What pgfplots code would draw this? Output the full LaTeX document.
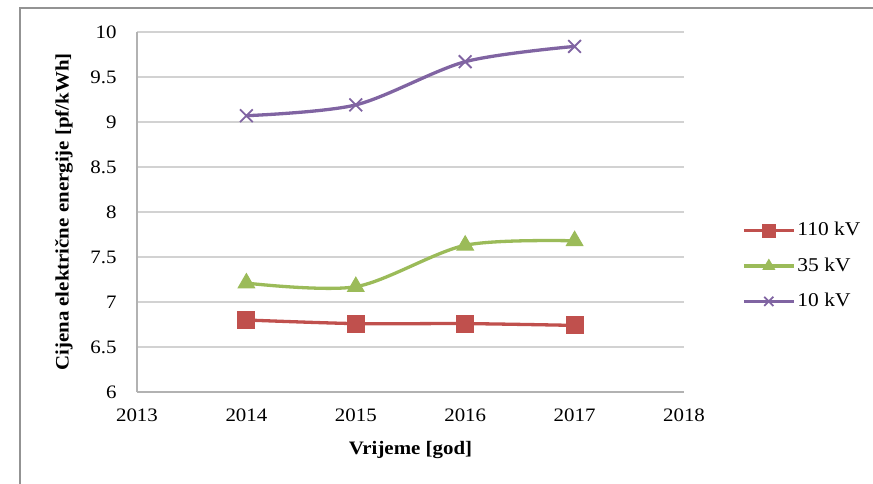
\documentclass[border=0pt]{standalone}
\usepackage{fontspec}
\setmainfont{Liberation Serif}[FakeStretch=1.1]
\usepackage{pgfplots}
\pgfplotsset{compat=1.18}
\definecolor{c110}{HTML}{C0504D}
\definecolor{c35}{HTML}{9BBB59}
\definecolor{c10}{HTML}{8064A2}
\begin{document}
\fontsize{19}{23}\selectfont
\begin{tikzpicture}
\useasboundingbox (0pt,0pt) rectangle (873pt,-484pt);
\draw[gray!85, line width=1.8pt] (20pt,-484pt) -- (20pt,-8pt) -- (873pt,-8pt);
\begin{axis}[
  at={(137pt,-392pt)}, anchor=south west,
  scale only axis, width=547pt, height=360pt,
  xmin=2013, xmax=2018, ymin=6, ymax=10,
  xtick={2013,2014,2015,2016,2017,2018},
  ytick={6,6.5,7,7.5,8,8.5,9,9.5,10},
  /pgf/number format/1000 sep={},
  /pgf/number format/assume math mode=true,
  ymajorgrids, major grid style={gray!35, line width=1.2pt},
  axis lines=left, axis line style={-, gray!60, line width=1.2pt},
  major tick length=0pt,
  tick label style={font=\fontsize{19}{23}\selectfont},
  xticklabel style={yshift=-10pt},
  yticklabel style={xshift=-14pt},
  label style={font=\fontsize{20}{24}\selectfont},
  xlabel={\textbf{Vrijeme [god]}},
  ylabel={\textbf{Cijena električne energije [pf/kWh]}},
  every axis x label/.style={at={([yshift=-58pt]axis description cs:0.5,0)}, anchor=center},
  every axis y label/.style={at={([xshift=-73pt]axis description cs:0,0.5)}, rotate=90, anchor=center},
  legend style={at={(axis description cs:1.106,0.35)}, anchor=west, draw=none, fill=none,
    font=\fontsize{19.5}{23}\selectfont, row sep=15pt, inner sep=0pt},
  legend cell align=left,
  legend image code/.code={\draw[#1, mark size=6.5pt, mark repeat=2, mark phase=2] plot coordinates {(0pt,0pt) (25pt,0pt) (50pt,0pt)};},
]
\addplot[c110, line width=3.3pt, smooth, mark=square*, mark size=8.5pt, mark options={solid, line width=1pt}]
  coordinates {(2014,6.80) (2015,6.76) (2016,6.76) (2017,6.74)};
\addlegendentry{110 kV}
\addplot[c35, line width=3.3pt, smooth, mark=triangle*, mark size=9.5pt, mark options={solid, line width=1pt}]
  coordinates {(2014,7.21) (2015,7.17) (2016,7.63) (2017,7.68)};
\addlegendentry{35 kV}
\addplot[c10, line width=3.3pt, smooth, mark=x, mark size=9pt, mark options={solid, line width=1.8pt}]
  coordinates {(2014,9.07) (2015,9.19) (2016,9.67) (2017,9.84)};
\addlegendentry{10 kV}
\end{axis}
\end{tikzpicture}
\end{document}
